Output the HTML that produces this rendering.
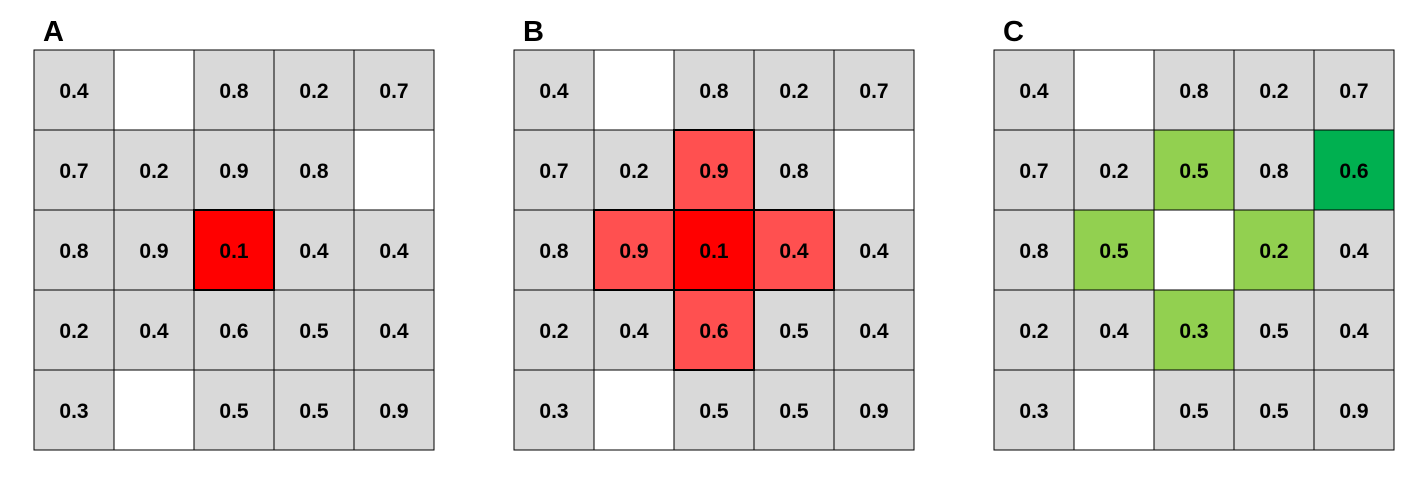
<!DOCTYPE html>
<html><head><meta charset="utf-8"><style>
body{margin:0;width:1424px;height:488px;background:#fff;overflow:hidden;font-family:"Liberation Sans",sans-serif}
svg{display:block}
</style></head><body>
<svg id="s" width="1424" height="488"></svg>
<script>
const panelLabels=["A","B","C"];
const panelX=[34,514,994];
const valuesA=[["0.4","","0.8","0.2","0.7"],["0.7","0.2","0.9","0.8",""],["0.8","0.9","0.1","0.4","0.4"],["0.2","0.4","0.6","0.5","0.4"],["0.3","","0.5","0.5","0.9"]];
const valuesB=[["0.4","","0.8","0.2","0.7"],["0.7","0.2","0.9","0.8",""],["0.8","0.9","0.1","0.4","0.4"],["0.2","0.4","0.6","0.5","0.4"],["0.3","","0.5","0.5","0.9"]];
const valuesC=[["0.4","","0.8","0.2","0.7"],["0.7","0.2","0.5","0.8","0.6"],["0.8","0.5","","0.2","0.4"],["0.2","0.4","0.3","0.5","0.4"],["0.3","","0.5","0.5","0.9"]];
const colorsA=["gwggg","ggggw","ggrgg","ggggg","gwggg"];
const colorsB=["gwggg","gglgw","glrlg","gglgg","gwggg"];
const colorsC=["gwggg","ggngd","gnwng","ggngg","gwggg"];
const pal={g:"#d9d9d9",w:"#ffffff",r:"#ff0000",l:"#ff5050",n:"#92d050",d:"#00b050"};
const vals=[valuesA,valuesB,valuesC],cols=[colorsA,colorsB,colorsC];
const s=document.getElementById('s'),NS="http://www.w3.org/2000/svg";
const top0=50,cw=80;
function mk(t,a){const e=document.createElementNS(NS,t);for(const k in a)e.setAttribute(k,a[k]);return e;}
panelLabels.forEach((lab,p)=>{
  const x0=panelX[p];
  const g=mk('g',{});
  
  
  s.appendChild(g);
  const t=mk('text',{x:x0+9,y:41,'font-size':29,'font-weight':'bold',fill:'#000'});
  t.textContent=lab;
  
  
  g.appendChild(t);
  const hi=[];
  for(let r=0;r<5;r++)for(let c=0;c<5;c++){
    const code=cols[p][r][c];
    const rect=mk('rect',{x:x0+c*cw,y:top0+r*cw,width:cw,height:cw,fill:pal[code],stroke:'#000','stroke-width':1});
    
    
    g.appendChild(rect);
    if(code==='l'||code==='r')hi.push([r,c]);
    const v=vals[p][r][c];
    if(v){const tx=mk('text',{x:x0+c*cw+cw/2,y:top0+r*cw+cw/2+8,'text-anchor':'middle','font-size':21,'font-weight':'bold',fill:'#000'});
      tx.textContent=v;
      
      
      g.appendChild(tx);}
  }
  hi.forEach(([r,c])=>{const o=mk('rect',{x:x0+c*cw,y:top0+r*cw,width:cw,height:cw,fill:'none',stroke:'#000','stroke-width':2});
    
    
    g.appendChild(o);});
});
</script>
</body></html>
